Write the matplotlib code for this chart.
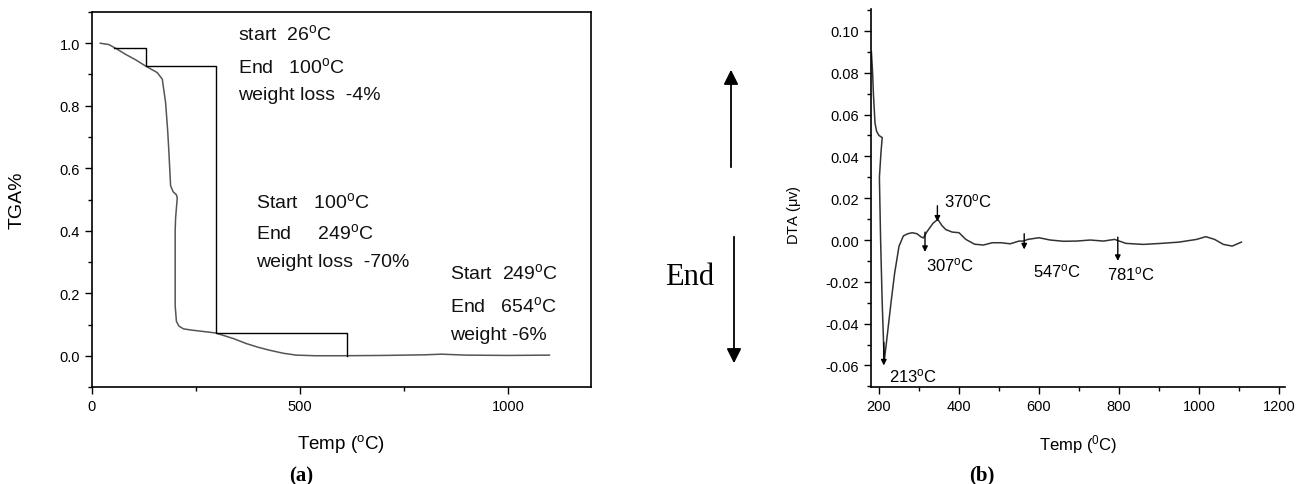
import numpy as np
import matplotlib
matplotlib.use("Agg")
import matplotlib.pyplot as plt
from matplotlib.ticker import MultipleLocator
from matplotlib.patches import FancyArrowPatch

plt.rcParams['font.family'] = ['Liberation Sans', 'DejaVu Sans']
plt.rcParams['mathtext.fontset'] = 'custom'
plt.rcParams['mathtext.rm'] = 'Liberation Sans'
plt.rcParams['mathtext.it'] = 'Liberation Sans'
NARROW = ['Liberation Sans Narrow', 'Liberation Sans', 'DejaVu Sans']
DEG = r'$^{\mathrm{o}}$'

# ---- TGA data (panel a) ----
tga_temp = [20, 40, 57, 80, 105, 129, 145, 157, 169, 177, 182, 185, 189, 195, 203, 205,
            201, 200, 200, 203, 209, 220, 240, 297, 340, 371, 400, 426, 460, 491, 537,
            600, 700, 800, 841, 900, 1000, 1100]
tga_val = [1.0, 0.996, 0.984, 0.965, 0.947, 0.927, 0.915, 0.906, 0.885, 0.81, 0.72, 0.65,
           0.544, 0.525, 0.515, 0.505, 0.44, 0.40, 0.16, 0.11, 0.095, 0.086, 0.082, 0.073,
           0.055, 0.039, 0.027, 0.018, 0.008, 0.002, 0.0, 0.0, 0.001, 0.003, 0.005, 0.002,
           0.001, 0.002]
# step construction lines
step_x = [54, 131, 131, 297, 297, 613, 613]
step_y = [0.984, 0.984, 0.926, 0.926, 0.074, 0.074, 0.0]
tga_notes = [
    ("start  26" + DEG + "C", 352, 1.034),
    ("End   100" + DEG + "C", 352, 0.927),
    ("weight loss  -4%", 352, 0.837),
    ("Start   100" + DEG + "C", 394, 0.496),
    ("End     249" + DEG + "C", 394, 0.396),
    ("weight loss  -70%", 394, 0.300),
    ("Start  249" + DEG + "C", 861, 0.268),
    ("End   654" + DEG + "C", 861, 0.163),
    ("weight -6%", 861, 0.067),
]

# ---- DTA data (panel b) ----
dta_temp = [181, 184, 186, 190, 194, 200, 208, 205, 201, 204, 208, 213, 218, 224, 230, 239,
            250, 261, 272, 283, 295, 305, 311, 320, 335, 347, 357, 367, 383, 400, 417, 439,
            461, 483, 505, 528, 550, 561, 572, 600, 628, 661, 694, 728, 761, 789, 817, 861,
            906, 950, 994, 1017, 1039, 1061, 1083, 1106]
dta_val = [0.090, 0.080, 0.070, 0.056, 0.052, 0.050, 0.049, 0.042, 0.030, 0.000, -0.030,
           -0.058, -0.050, -0.040, -0.030, -0.016, -0.003, 0.002, 0.003, 0.0035, 0.003,
           0.0015, 0.001, 0.004, 0.008, 0.0099, 0.007, 0.005, 0.0038, 0.0035, 0.0003,
           -0.002, -0.0024, -0.0013, -0.0013, -0.0018, -0.0005, -0.0005, 0.0003, 0.0011,
           0.0, -0.0006, -0.0005, 0.0, -0.0005, 0.0003, -0.0016, -0.0021, -0.0016, -0.001,
           0.0003, 0.0016, 0.0003, -0.0021, -0.0029, -0.001]
# peak labels: text, arrow x, arrow y start, arrow y end, text x, text y
dta_peaks = [
    ("213", 212, -0.049, -0.060, 224, -0.0645),
    ("307", 315, 0.0038, -0.0057, 317, -0.0115),
    ("370", 346, 0.0164, 0.0088, 362, 0.0188),
    ("547", 563, 0.0030, -0.0045, 584, -0.0144),
    ("781", 797, 0.0014, -0.0100, 769, -0.0160),
]

fig = plt.figure(figsize=(12.99, 4.85), dpi=100)

# panel (a)
ax1 = fig.add_axes([92/1299, 0.2, 499/1299, 375/485])
ax1.plot(tga_temp, tga_val, color='#555555', lw=1.1)
ax1.plot(step_x, step_y, color='black', lw=1.0)
for txt, x, y in tga_notes:
    ax1.text(x, y, txt, fontsize=14, va='center', ha='left', color='#111111')
ax1.set_xlim(0, 1200)
ax1.set_ylim(-0.1, 1.1)
ax1.xaxis.set_major_locator(MultipleLocator(500))
ax1.xaxis.set_minor_locator(MultipleLocator(250))
ax1.yaxis.set_major_locator(MultipleLocator(0.2))
ax1.yaxis.set_minor_locator(MultipleLocator(0.1))
ax1.yaxis.set_major_formatter(matplotlib.ticker.FormatStrFormatter('%.1f'))
ax1.tick_params(which='major', length=5, width=1, labelsize=10.5, direction='out')
ax1.tick_params(which='minor', length=3, width=1, direction='out')
for s in ax1.spines.values():
    s.set_linewidth(1.2)
ax1.set_xlabel("Temp (" + DEG + "C)", fontsize=13.5)
ax1.set_ylabel("TGA%", fontsize=14)
ax1.xaxis.set_label_coords(0.5, -0.12)
ax1.yaxis.set_label_coords(-0.133, 0.50)

# panel (b)
ax2 = fig.add_axes([871/1299, 0.2, 414/1299, 378/485])
ax2.plot(dta_temp, dta_val, color='#333333', lw=1.1)
for lab, ax_, y0, y1, tx, ty in dta_peaks:
    ax2.annotate("", xy=(ax_, y1), xytext=(ax_, y0),
                 arrowprops=dict(arrowstyle='-|>', color='black', lw=1.0,
                                 mutation_scale=8, shrinkA=0, shrinkB=0))
    ax2.text(tx, ty, lab + DEG + "C", fontsize=12, family=NARROW, va='center', ha='left')
ax2.set_xlim(180, 1215)
ax2.set_ylim(-0.0703, 0.1105)
ax2.xaxis.set_major_locator(MultipleLocator(200))
ax2.xaxis.set_minor_locator(MultipleLocator(100))
ax2.yaxis.set_major_locator(MultipleLocator(0.02))
ax2.yaxis.set_minor_locator(MultipleLocator(0.01))
ax2.yaxis.set_major_formatter(matplotlib.ticker.FormatStrFormatter('%.2f'))
ax2.spines['top'].set_visible(False)
ax2.spines['right'].set_visible(False)
for s in ('left', 'bottom'):
    ax2.spines[s].set_linewidth(1.2)
ax2.tick_params(which='major', length=5, width=1, labelsize=10.5, direction='out')
ax2.tick_params(which='minor', length=3, width=1, direction='out')
for lbl in ax2.get_xticklabels() + ax2.get_yticklabels():
    lbl.set_family(NARROW)
ax2.set_xlabel("Temp ($^{0}$C)", fontsize=12, family=NARROW)
ax2.set_ylabel(r"DTA ($\mu$v)", fontsize=10.5, family=NARROW)
ax2.xaxis.set_label_coords(0.5, -0.119)
ax2.yaxis.set_label_coords(-0.164, 0.458)

# big direction arrows in the gap
fig.add_artist(FancyArrowPatch((731/1299, 1-171/485), (731/1299, 1-68/485),
                               transform=fig.transFigure, arrowstyle='-|>',
                               mutation_scale=22, lw=1.3, color='black'))
fig.add_artist(FancyArrowPatch((734/1299, 1-235/485), (734/1299, 1-367/485),
                               transform=fig.transFigure, arrowstyle='-|>',
                               mutation_scale=22, lw=1.3, color='black'))
fig.text(690/1299, 1-278/485, "End", fontsize=22, family='Liberation Serif',
         ha='center', va='center')

fig.text(301/1299, 1-476/485, "(a)", fontsize=15, family='Liberation Serif',
         fontweight='bold', ha='center', va='center')
fig.text(982/1299, 1-475/485, "(b)", fontsize=15, family='Liberation Serif',
         fontweight='bold', ha='center', va='center')

fig.savefig("out.png", dpi=100)
